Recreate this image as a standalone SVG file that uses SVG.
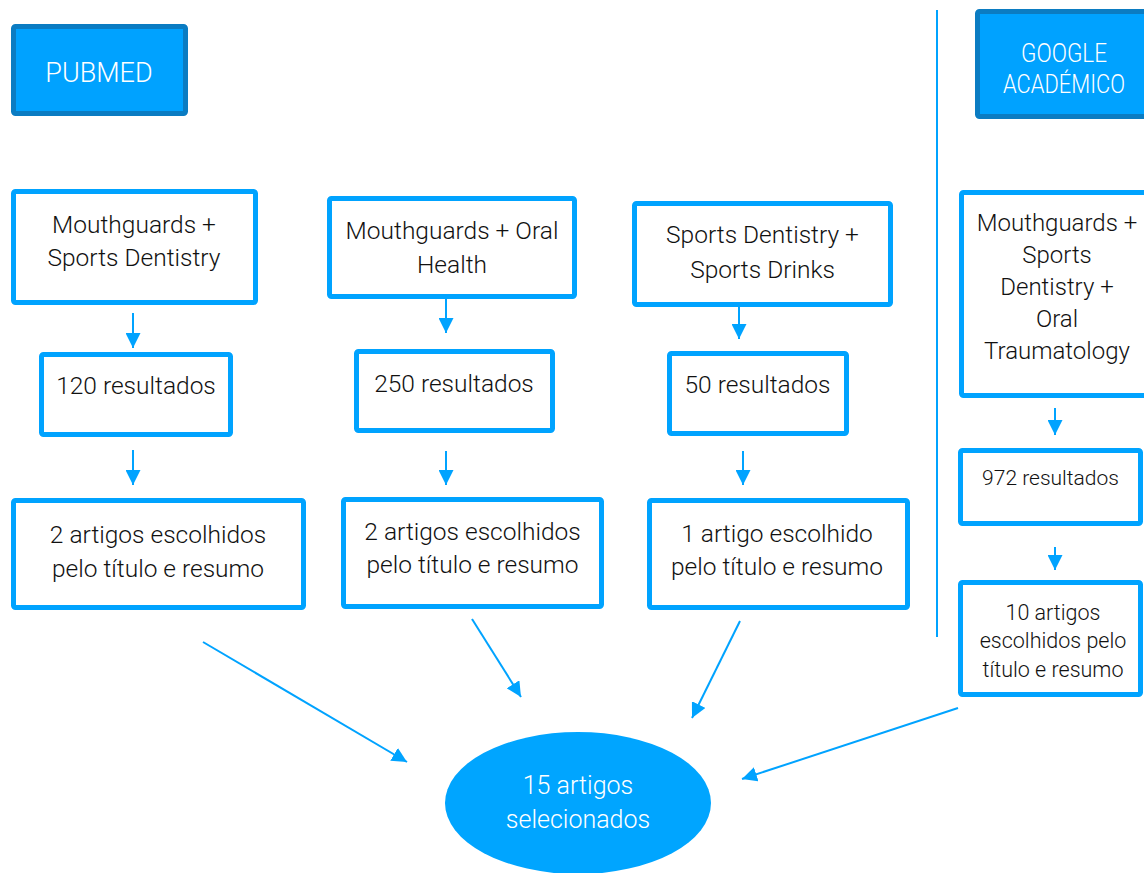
<svg xmlns="http://www.w3.org/2000/svg" width="1144" height="873" viewBox="0 0 1144 873">
  <defs>
    <marker id="ahs" viewBox="0 0 10 10" refX="10" refY="5" markerWidth="7.5" markerHeight="7.5" markerUnits="strokeWidth" orient="auto">
      <path d="M0,0 L10,5 L0,10 z" fill="#00a3ff"/>
    </marker>
    <style>
      .box { fill: #ffffff; stroke: #00a3ff; stroke-width: 5; }
      .hdr { fill: #00a2ff; stroke: #0b7cc2; stroke-width: 5; }
      .t { font-family: Roboto, "Liberation Sans", sans-serif; fill: #111111; text-anchor: middle; font-weight: 300; }
      .w { font-family: Roboto, "Liberation Sans", sans-serif; fill: #ffffff; text-anchor: middle; font-weight: 300; }
      .c { stroke: #00a3ff; stroke-width: 2; fill: none; }
    </style>
  </defs>
  <rect width="1144" height="873" fill="#ffffff"/>

  <line x1="937" y1="10" x2="937" y2="637" stroke="#00a3ff" stroke-width="2"/>

  <g id="pubmed">
    <rect class="hdr" x="13.5" y="26.5" width="172" height="87" rx="2"/>
    <text class="w" x="99" y="82" font-size="27">PUBMED</text>
  </g>
  <g id="google">
    <rect class="hdr" x="977.5" y="11.5" width="200" height="105" rx="2"/>
    <text class="w" x="1064" y="62" font-size="25" textLength="86" lengthAdjust="spacingAndGlyphs">GOOGLE</text>
    <text class="w" x="1064" y="93" font-size="25" textLength="122" lengthAdjust="spacingAndGlyphs">ACADÉMICO</text>
  </g>

  <g id="q1">
    <rect class="box" x="13.5" y="191.5" width="242" height="111" rx="2"/>
    <text class="t" x="134" y="233" font-size="24.5">Mouthguards +</text>
    <text class="t" x="134" y="266" font-size="24.5">Sports Dentistry</text>
  </g>
  <g id="r1">
    <rect class="box" x="41.5" y="354.5" width="189" height="80" rx="2"/>
    <text class="t" x="136" y="394" font-size="24.5">120 resultados</text>
  </g>
  <g id="a1">
    <rect class="box" x="13.5" y="500.5" width="290" height="107" rx="2"/>
    <text class="t" x="158" y="543" font-size="24.5">2 artigos escolhidos</text>
    <text class="t" x="158" y="577" font-size="24.5">pelo título e resumo</text>
  </g>

  <g id="q2">
    <rect class="box" x="329.5" y="198.5" width="245" height="98" rx="2"/>
    <text class="t" x="452" y="239" font-size="24.5">Mouthguards + Oral</text>
    <text class="t" x="452" y="273" font-size="24.5">Health</text>
  </g>
  <g id="r2">
    <rect class="box" x="356.5" y="351.5" width="196" height="79" rx="2"/>
    <text class="t" x="454" y="392" font-size="24.5">250 resultados</text>
  </g>
  <g id="a2">
    <rect class="box" x="343.5" y="499.5" width="258" height="107" rx="2"/>
    <text class="t" x="472.5" y="540" font-size="24.5">2 artigos escolhidos</text>
    <text class="t" x="472.5" y="573" font-size="24.5">pelo título e resumo</text>
  </g>

  <g id="q3">
    <rect class="box" x="634.5" y="203.5" width="256" height="101" rx="2"/>
    <text class="t" x="762.5" y="243" font-size="24.5">Sports Dentistry +</text>
    <text class="t" x="762.5" y="278" font-size="24.5">Sports Drinks</text>
  </g>
  <g id="r3">
    <rect class="box" x="669.5" y="353.5" width="177" height="80" rx="2"/>
    <text class="t" x="757.5" y="393" font-size="24.5">50 resultados</text>
  </g>
  <g id="a3">
    <rect class="box" x="649.5" y="500.5" width="258" height="107" rx="2"/>
    <text class="t" x="777" y="542" font-size="24.5">1 artigo escolhido</text>
    <text class="t" x="777" y="575" font-size="24.5">pelo título e resumo</text>
  </g>

  <g id="q4">
    <rect class="box" x="961.5" y="192.5" width="200" height="203" rx="2"/>
    <text class="t" x="1057" y="231" font-size="24">Mouthguards +</text>
    <text class="t" x="1057" y="263" font-size="24">Sports</text>
    <text class="t" x="1057" y="295" font-size="24">Dentistry +</text>
    <text class="t" x="1057" y="327" font-size="24">Oral</text>
    <text class="t" x="1057" y="359" font-size="24">Traumatology</text>
  </g>
  <g id="r4">
    <rect class="box" x="960.5" y="450.5" width="180" height="73" rx="2"/>
    <text class="t" x="1050.5" y="485" font-size="21">972 resultados</text>
  </g>
  <g id="a4">
    <rect class="box" x="960.5" y="582.5" width="180" height="112" rx="2"/>
    <text class="t" x="1053" y="620" font-size="21.5">10 artigos</text>
    <text class="t" x="1053" y="648" font-size="21.5">escolhidos pelo</text>
    <text class="t" x="1053" y="677" font-size="21.5">título e resumo</text>
  </g>

  <g id="result">
    <ellipse cx="578" cy="803" rx="133" ry="71" fill="#00a5ff"/>
    <text class="w" x="578" y="794" font-size="25">15 artigos</text>
    <text class="w" x="578" y="828" font-size="25">selecionados</text>
  </g>

  <g id="connectors">
    <line class="c" x1="133" y1="313" x2="133" y2="348" marker-end="url(#ahs)"/>
    <line class="c" x1="133" y1="450" x2="133" y2="485" marker-end="url(#ahs)"/>
    <line class="c" x1="446" y1="299" x2="446" y2="333" marker-end="url(#ahs)"/>
    <line class="c" x1="446" y1="451" x2="446" y2="485" marker-end="url(#ahs)"/>
    <line class="c" x1="739" y1="307" x2="739" y2="339" marker-end="url(#ahs)"/>
    <line class="c" x1="743" y1="451" x2="743" y2="485" marker-end="url(#ahs)"/>
    <line class="c" x1="1055" y1="408" x2="1055" y2="435" marker-end="url(#ahs)"/>
    <line class="c" x1="1055" y1="547" x2="1055" y2="570" marker-end="url(#ahs)"/>
    <line class="c" x1="203" y1="642" x2="407" y2="762" marker-end="url(#ahs)"/>
    <line class="c" x1="472" y1="619" x2="521" y2="697" marker-end="url(#ahs)"/>
    <line class="c" x1="740" y1="621" x2="692" y2="718" marker-end="url(#ahs)"/>
    <line class="c" x1="958" y1="708" x2="742" y2="779" marker-end="url(#ahs)"/>
  </g>
</svg>
